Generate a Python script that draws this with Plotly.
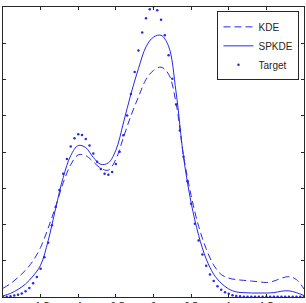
import plotly.graph_objects as go

# x grids
x_line = [-2.0, -1.9, -1.8, -1.7, -1.6, -1.5, -1.4, -1.3, -1.2, -1.1, -1.0,
          -0.9, -0.8, -0.7, -0.6, -0.5, -0.4, -0.3, -0.2, -0.1, 0.0,
          0.1, 0.2, 0.3, 0.4, 0.5, 0.6, 0.7, 0.8, 0.9, 1.0,
          1.1, 1.2, 1.3, 1.4, 1.5, 1.6, 1.7, 1.8, 1.9, 2.0]

kde = [0.024, 0.037, 0.054, 0.074, 0.100, 0.137, 0.190, 0.250, 0.315, 0.365, 0.392,
       0.390, 0.373, 0.355, 0.350, 0.380, 0.440, 0.500, 0.552, 0.600, 0.625,
       0.634, 0.615, 0.535, 0.388, 0.280, 0.195, 0.133, 0.088, 0.062, 0.052,
       0.048, 0.046, 0.044, 0.042, 0.040, 0.044, 0.052, 0.056, 0.048, 0.022]

spkde = [0.003, 0.010, 0.021, 0.036, 0.058, 0.088, 0.155, 0.245, 0.330, 0.390, 0.418,
         0.412, 0.385, 0.366, 0.370, 0.405, 0.480, 0.560, 0.630, 0.690, 0.717,
         0.722, 0.692, 0.565, 0.385, 0.260, 0.170, 0.105, 0.063, 0.038, 0.022,
         0.014, 0.012, 0.011, 0.011, 0.011, 0.012, 0.016, 0.017, 0.012, 0.004]

x_target = [-2.0, -1.95, -1.9, -1.85, -1.8, -1.75, -1.7, -1.65, -1.6, -1.55,
            -1.5, -1.45, -1.4, -1.35, -1.3, -1.25, -1.2, -1.15, -1.1, -1.05,
            -1.0, -0.95, -0.9, -0.85, -0.8, -0.75, -0.7, -0.65, -0.6, -0.55,
            -0.5, -0.45, -0.4, -0.35, -0.3, -0.25, -0.2, -0.15, -0.1, -0.05,
            0.0, 0.05, 0.1, 0.15, 0.2, 0.25, 0.3, 0.35, 0.4, 0.45,
            0.5, 0.55, 0.6, 0.65, 0.7, 0.75, 0.8, 0.85, 0.9, 0.95,
            1.0, 1.05, 1.1, 1.15, 1.2, 1.25, 1.3, 1.35, 1.4, 1.45,
            1.5, 1.55, 1.6, 1.65, 1.7, 1.75, 1.8, 1.85, 1.9, 1.95, 2.0]

target = [0.000, 0.001, 0.002, 0.004, 0.006, 0.010, 0.016, 0.025, 0.038, 0.055,
          0.078, 0.110, 0.150, 0.198, 0.248, 0.295, 0.340, 0.381, 0.415, 0.438,
          0.449, 0.447, 0.436, 0.418, 0.396, 0.373, 0.353, 0.340, 0.337, 0.345,
          0.367, 0.401, 0.446, 0.501, 0.560, 0.621, 0.680, 0.730, 0.769, 0.794,
          0.802, 0.791, 0.765, 0.722, 0.667, 0.602, 0.531, 0.459, 0.387, 0.319,
          0.257, 0.202, 0.156, 0.117, 0.086, 0.062, 0.044, 0.030, 0.020, 0.013,
          0.009, 0.005, 0.003, 0.002, 0.001, 0.001, 0.001, 0.001, 0.001, 0.001,
          0.001, 0.001, 0.001, 0.001, 0.001, 0.001, 0.001, 0.001, 0.001, 0.001, 0.001]

x_ticks = [-2, -1.5, -1, -0.5, 0, 0.5, 1, 1.5, 2]
x_ticklabels = ["-2", "-1.5", "-1", "-0.5", "0", "0.5", "1", "1.5", "2"]
y_ticks = [0, 0.1, 0.2, 0.3, 0.4, 0.5, 0.6, 0.7, 0.8]

BLUE = "rgb(40,40,235)"

fig = go.Figure()
fig.add_trace(go.Scatter(x=x_line, y=kde, name="KDE", mode="lines",
                         line=dict(color=BLUE, width=1, dash="7px,4px", shape="spline", smoothing=1.0)))
fig.add_trace(go.Scatter(x=x_line, y=spkde, name="SPKDE", mode="lines",
                         line=dict(color=BLUE, width=1, shape="spline", smoothing=1.0)))
fig.add_trace(go.Scatter(x=x_target, y=target, name="Target", mode="markers",
                         marker=dict(color=BLUE, size=2.5, symbol="circle")))

axis_common = dict(showgrid=False, zeroline=False, showline=True, mirror="ticks",
                   linecolor="#262626", linewidth=1, ticks="inside", ticklen=3,
                   tickcolor="#262626", tickwidth=1, automargin=False)

fig.update_layout(
    width=306, height=303,
    margin=dict(l=3, r=2, t=7, b=6, autoexpand=False),
    paper_bgcolor="white", plot_bgcolor="white",
    font=dict(family="Liberation Sans, Arial, sans-serif", size=10, color="#262626"),
    xaxis=dict(range=[-2, 2], tickvals=x_ticks, ticktext=x_ticklabels, **axis_common),
    yaxis=dict(range=[0, 0.8], tickvals=y_ticks, showticklabels=False, **axis_common),
    legend=dict(x=0.985, y=0.985, xanchor="right", yanchor="top",
                bgcolor="white", bordercolor="#262626", borderwidth=1,
                font=dict(size=10, color="#262626"), tracegroupgap=0,
                itemwidth=30),
    showlegend=True,
)

fig.write_html("out.html")
